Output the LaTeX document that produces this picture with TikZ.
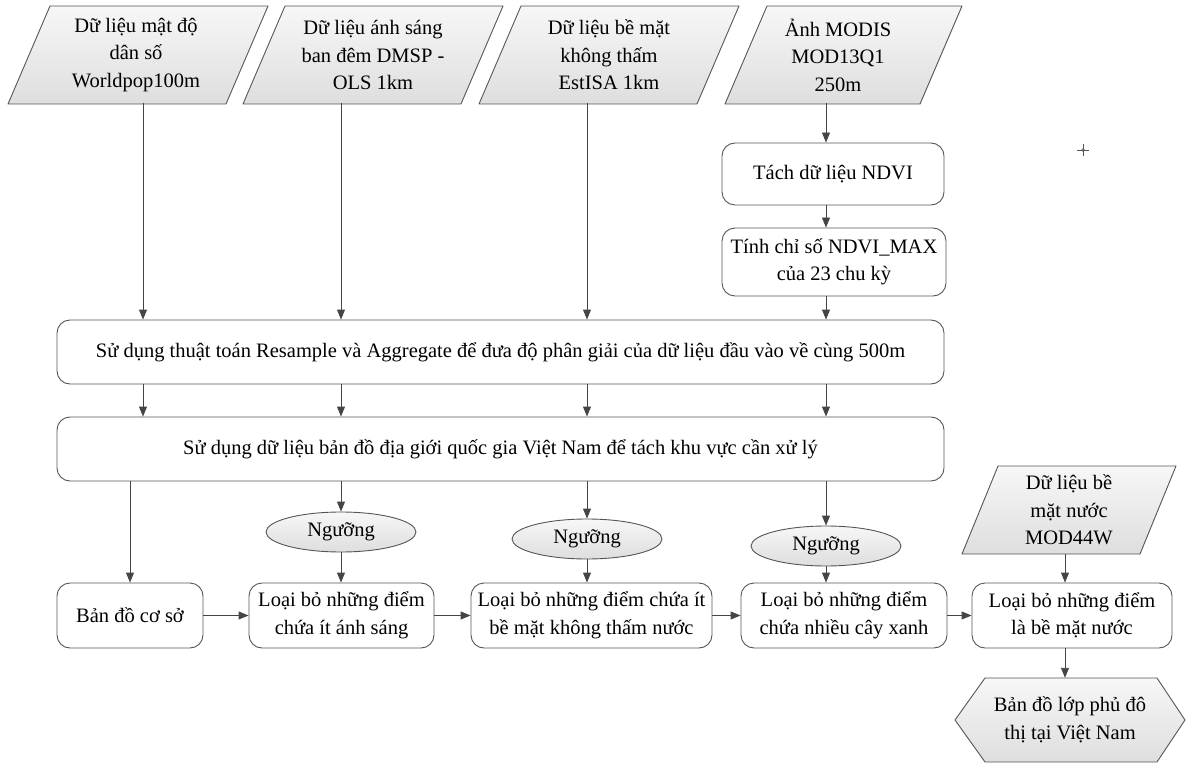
\documentclass[tikz,border=0pt]{standalone}
\usepackage{fontspec}
\setmainfont{Liberation Serif}
\usetikzlibrary{shapes.geometric,arrows.meta}

\definecolor{linegray}{HTML}{555555}
\definecolor{arrowgray}{HTML}{454545}
\definecolor{shadetop}{HTML}{F7F7F7}
\definecolor{shadebot}{HTML}{DEDEDE}

\begin{document}
\begin{tikzpicture}[x=1pt, y=-1pt, line join=round,
    font=\fontsize{20.5}{27.5}\selectfont,
    proc/.style={draw=linegray, line width=0.9pt, fill=white, rounded corners=13pt,
      align=center, inner sep=0pt},
    datashape/.style={draw=linegray, line width=0.9pt, top color=shadetop, bottom color=shadebot},
    datatext/.style={align=center, inner sep=0pt, minimum height=96pt},
    threshold/.style={ellipse, draw=linegray, line width=0.9pt, top color=shadetop,
      bottom color=shadebot, minimum width=150pt, minimum height=40pt, inner sep=0pt},
    arr/.style={draw=arrowgray, line width=0.9pt, -{Triangle[length=10pt,width=8pt]}}]

  % Frame of the page
  \useasboundingbox (0,0) rectangle (1191,767);

  % Input data (parallelograms)
  \draw[datashape] (8,104) -- (226,104) -- (268,6) -- (50,6) -- cycle;
  \node[datatext] (pop) at (136,55) {Dữ liệu mật độ\\dân số\\Worldpop100m};
  \draw[datashape] (243,104) -- (461,104) -- (503,6) -- (285,6) -- cycle;
  \node[datatext] (light) at (373,55) {Dữ liệu ánh sáng\\ban đêm DMSP -\\OLS 1km};
  \draw[datashape] (479,104) -- (697,104) -- (739,6) -- (521,6) -- cycle;
  \node[datatext] (isa) at (609,55) {Dữ liệu bề mặt\\không thấm\\EstISA 1km};
  \draw[datashape] (725,104) -- (920,104) -- (962,6) -- (767,6) -- cycle;
  \node[datatext] (modis) at (838,55) {Ảnh MODIS\\MOD13Q1\\250m};

  % NDVI branch
  \node[proc, minimum width=222pt, minimum height=62pt] (ndvi) at (833,174) {Tách dữ liệu NDVI};
  \node[proc, minimum width=224pt, minimum height=68pt] (ndvimax) at (834,262) {Tính chỉ số NDVI\_MAX\\của 23 chu kỳ};

  % Common processing
  \node[proc, minimum width=887pt, minimum height=64pt] (resample) at (500.5,352)
    {Sử dụng thuật toán Resample và Aggregate để đưa độ phân giải của dữ liệu đầu vào về cùng 500m};
  \node[proc, minimum width=887pt, minimum height=64pt] (border) at (500.5,449)
    {Sử dụng dữ liệu bản đồ địa giới quốc gia Việt Nam để tách khu vực cần xử lý};

  % Thresholds
  \node[threshold] (thr1) at (341,532) {Ngưỡng};
  \node[threshold] (thr2) at (587,539) {Ngưỡng};
  \node[threshold] (thr3) at (826,546) {Ngưỡng};

  % Filtering steps
  \node[proc, minimum width=146pt, minimum height=65pt] (base) at (130,615.5) {Bản đồ cơ sở};
  \node[proc, minimum width=185pt, minimum height=65pt] (step1) at (341.5,615.5) {Loại bỏ những điểm\\chứa ít ánh sáng};
  \node[proc, minimum width=241pt, minimum height=65pt] (step2) at (591.5,615.5) {Loại bỏ những điểm chứa ít\\bề mặt không thấm nước};
  \node[proc, minimum width=206pt, minimum height=65pt] (step3) at (844,615.5) {Loại bỏ những điểm\\chứa nhiều cây xanh};
  \node[proc, minimum width=200pt, minimum height=65pt] (step4) at (1072,615.5) {Loại bỏ những điểm\\là bề mặt nước};

  % Water data
  \draw[datashape] (962,554) -- (1140,554) -- (1176,466) -- (998,466) -- cycle;
  \node[datatext, minimum height=88pt] (water) at (1069,510) {Dữ liệu bề\\mặt nước\\MOD44W};

  % Result (hexagon)
  \draw[datashape] (955,720) -- (985,678) -- (1157,678) -- (1185,720) -- (1157,762) -- (985,762) -- cycle;
  \node[inner sep=0pt, minimum height=84pt, align=center] (result) at (1070,720) {Bản đồ lớp phủ đô\\thị tại Việt Nam};

  % Arrows from inputs
  \draw[arr] ([xshift=7pt]pop.south) -- ([xshift=7pt]pop.south |- resample.north);
  \draw[arr] ([xshift=-32pt]light.south) -- ([xshift=-32pt]light.south |- resample.north);
  \draw[arr] ([xshift=-22pt]isa.south) -- ([xshift=-22pt]isa.south |- resample.north);
  \draw[arr] ([xshift=-12pt]modis.south) -- ([xshift=-12pt]modis.south |- ndvi.north);
  \draw[arr] (ndvi.south -| 826,0) -- (ndvimax.north -| 826,0);
  \draw[arr] (ndvimax.south -| 826,0) -- (resample.north -| 826,0);

  % Arrows between the two wide boxes
  \foreach \xa in {143,341,587,826}
    \draw[arr] (resample.south -| \xa,0) -- (border.north -| \xa,0);

  % Arrows to thresholds and steps
  \draw[arr] (border.south -| base.north) -- (base.north);
  \draw[arr] (border.south -| thr1.north) -- (thr1.north);
  \draw[arr] (border.south -| thr2.north) -- (thr2.north);
  \draw[arr] (border.south -| thr3.north) -- (thr3.north);
  \draw[arr] (thr1.south) -- (thr1.south |- step1.north);
  \draw[arr] (thr2.south) -- (thr2.south |- step2.north);
  \draw[arr] (thr3.south) -- (thr3.south |- step3.north);
  \draw[arr] (water.south -| 1065,0) -- (step4.north -| 1065,0);

  % Horizontal chain
  \draw[arr] (base) -- (step1);
  \draw[arr] (step1) -- (step2);
  \draw[arr] (step2) -- (step3);
  \draw[arr] (step3) -- (step4);
  \draw[arr] (step4.south -| 1065,0) -- (result.north -| 1065,0);

  % Small cross mark
  \draw[linegray, line width=0.6pt] (1077,150) -- (1089,150) (1083,144) -- (1083,156);
  \draw[linegray, line width=0.6pt] (1083,150) circle (1.5pt);
\end{tikzpicture}
\end{document}
